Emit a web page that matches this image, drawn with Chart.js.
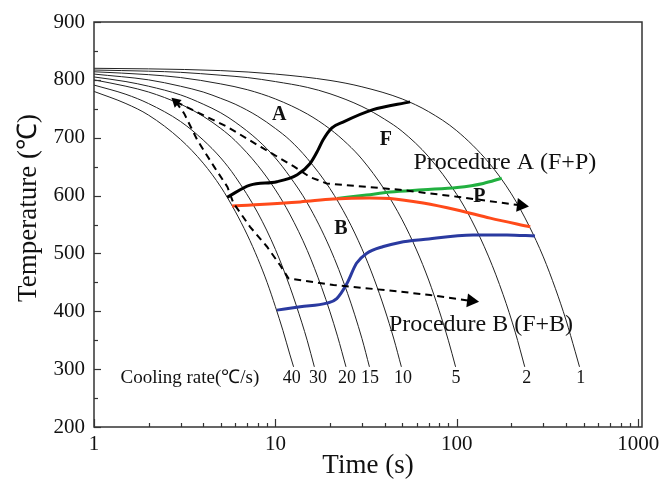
<!DOCTYPE html>
<html><head><meta charset="utf-8">
<script src="https://cdn.jsdelivr.net/npm/chart.js@4/dist/chart.umd.min.js"></script>
<style>html,body{margin:0;padding:0;background:#fff}#wrap{width:666px;height:484px}</style>
</head><body><div id="wrap"><canvas id="c" width="666" height="484"></canvas></div>
<script>
// ---- data: [time (s), temperature (°C)] ----
const rateLabels = ['40','30','20','15','10','5','2','1'];
const rateLabelTimes = [12.3,17.2,24.8,33.2,50.5,98.9,243,483];
const curve40 = [[1,780],[1.5,759],[2,739],[3,697],[4,656],[5,615],[6,573],[7,532],[8,491],[9,450],[10,408],[11,367],[12,326],[12.6,304]];
const curve30 = [[1,791],[1.5,775],[2,759],[3,728],[4,696],[5,665],[6,633],[8,570],[10,507],[12,443],[14,380],[15,349],[16.4,304]];
const curve20 = [[1,800],[1.5,789],[2,779],[3,758],[4,737],[5,716],[6,695],[8,652],[10,610],[12,568],[15,505],[18,441],[20,399],[22,357],[24.5,304]];
const curve15 = [[1,805],[1.5,797],[2,789],[3,774],[4,758],[5,743],[6,727],[8,696],[10,665],[12,633],[15,587],[20,509],[25,431],[30,353],[33,304]];
const curve10 = [[1,810],[2,800],[3,789],[4,779],[5,768],[6,758],[8,737],[10,716],[12,696],[15,664],[20,612],[25,560],[30,508],[35,456],[40,404],[45,352],[49.5,304]];
const curve5 = [[1,814],[2,809],[3,804],[5,793],[7,783],[10,767],[15,741],[20,715],[25,689],[30,663],[40,610],[50,558],[60,506],[70,454],[80,401],[90,349],[98.5,304]];
const curve2 = [[1,817],[2,815],[3,813],[5,808],[7,804],[10,797],[15,787],[20,776],[30,754],[40,732],[50,711],[70,667],[100,602],[120,559],[150,494],[180,429],[210,364],[237,304]];
const curve1 = [[1,820],[2,819],[5,816],[10,810],[20,799],[30,788],[50,767],[70,745],[100,712],[150,657],[200,603],[250,548],[300,494],[350,439],[400,385],[450,330],[475,304]];
const ferriteStart = [[5.42,597],[7.25,618],[10.2,624],[13.2,636],[15.5,655],[17.2,679],[18.3,696],[20.5,717],[23.6,727],[34.2,748],[55.3,762]];
const pearliteStart = [[5.77,582],[13.7,589],[20.8,594],[33,596],[42.9,595],[65.3,587],[100.5,575],[152.8,561],[254,546]];
const pearliteUpper = [[21.9,595],[31.8,601],[42.9,606],[65.3,610],[100.5,614],[140,621],[177,630]];
const bainiteStart = [[10.2,402],[13.7,408],[19.2,414],[21.8,422],[24.8,448],[28,483],[31.8,500],[39.4,512],[48.6,519],[65.3,524],[123,532],[189,532],[270,530]];
const procedureA = [[2.83,762],[5.42,719],[8.31,684],[12.7,650],[15.5,632],[19.2,621],[48.6,610],[100.5,598],[226,583]];
const procedureB = [[2.83,762],[3.14,742],[3.71,696],[4.59,650],[5.44,615],[5.87,587],[7.25,546],[8.97,512],[10.6,480],[11.8,457],[20.9,445.5],[48.6,434],[71.3,428],[120,418]];
const xTickLabels = [1,10,100,1000];
const yTickLabels = [200,300,400,500,600,700,800,900];

const SERIF = '"Liberation Serif", "Times New Roman", serif';
const toXY = a => a.map(p => ({x:p[0], y:p[1]}));

const coolingCurves = [curve40,curve30,curve20,curve15,curve10,curve5,curve2,curve1];
const datasets = [];
coolingCurves.forEach((c,i)=>datasets.push({label:'rate '+rateLabels[i],data:toXY(c),borderColor:'#222',borderWidth:1,pointRadius:0,cubicInterpolationMode:'monotone',order:10}));
datasets.push({label:'F start',data:toXY(ferriteStart),borderColor:'#000',borderWidth:3,pointRadius:0,cubicInterpolationMode:'monotone',order:5});
datasets.push({label:'P start',data:toXY(pearliteStart),borderColor:'#ff4a1a',borderWidth:3,pointRadius:0,cubicInterpolationMode:'monotone',order:5});
datasets.push({label:'P upper',data:toXY(pearliteUpper),borderColor:'#22b040',borderWidth:3,pointRadius:0,cubicInterpolationMode:'monotone',order:5});
datasets.push({label:'B start',data:toXY(bainiteStart),borderColor:'#2a3aa0',borderWidth:3,pointRadius:0,cubicInterpolationMode:'monotone',order:5});
function arrowDs(label,arr,firstArrow,rotFirst,rotLast){
  const last = arr.length-1;
  return {label,data:toXY(arr),borderColor:'#000',borderWidth:2,borderDash:[7,5],tension:0,order:1,
    pointStyle:'triangle',backgroundColor:'#000',pointBackgroundColor:'#000',pointBorderColor:'#000',pointBorderWidth:0,
    pointRadius:ctx=>ctx.dataIndex===last?8:(firstArrow&&ctx.dataIndex===0?6:0),
    pointRotation:ctx=>ctx.dataIndex===last?rotLast:rotFirst};
}
datasets.push(arrowDs('Procedure A',procedureA,true,-48,97));
datasets.push(arrowDs('Procedure B',procedureB,false,-48,97));

const textItems = [
  {t:'A',x:10.5,y:739,font:'bold 20px '+SERIF},
  {t:'F',x:40.7,y:696,font:'bold 20px '+SERIF},
  {t:'B',x:23.0,y:542,font:'bold 20px '+SERIF},
  {t:'P',x:133,y:597,font:'bold 20px '+SERIF},
  {t:'Procedure A (F+P)',x:184,y:656,font:'24px '+SERIF},
  {t:'Procedure B (F+B)',x:136,y:376,font:'24px '+SERIF},
  {t:'Cooling rate(℃/s)',x:3.38,y:285,font:'19px '+SERIF}
];
rateLabels.forEach((r,i)=>textItems.push({t:r,x:rateLabelTimes[i],y:285,font:'18px '+SERIF}));

const decorPlugin = {
  id:'decor',
  afterDraw(chart){
    const {ctx, chartArea:a, scales:{x,y}} = chart;
    ctx.save();
    ctx.strokeStyle='#333'; ctx.lineWidth=1.5;
    ctx.strokeRect(a.left,a.top,a.right-a.left,a.bottom-a.top);
    ctx.lineWidth=1.2;
    for(let v=200; v<=900; v+=50){
      const py=Math.round(y.getPixelForValue(v))+0.5;
      const len = v%100===0?7:4;
      ctx.beginPath(); ctx.moveTo(a.left,py); ctx.lineTo(a.left+len,py); ctx.stroke();
    }
    [1,10,100,1000].forEach(d=>{
      for(let m=1;m<=9;m++){
        const v=d*m; if(v>1000) return;
        const px=Math.round(x.getPixelForValue(v))+0.5;
        const len = m===1?8:4;
        ctx.beginPath(); ctx.moveTo(px,a.bottom); ctx.lineTo(px,a.bottom-len); ctx.stroke();
      }
    });
    ctx.fillStyle='#111'; ctx.textAlign='center'; ctx.textBaseline='middle';
    textItems.forEach(it=>{
      ctx.font=it.font;
      ctx.fillText(it.t, x.getPixelForValue(it.x), y.getPixelForValue(it.y));
    });
    // axis titles
    ctx.font='27px '+SERIF;
    ctx.fillText('Time (s)', (a.left+a.right)/2, 466);
    ctx.translate(29, 208);
    ctx.rotate(-Math.PI/2);
    ctx.fillText('Temperature (℃)', 0, 0);
    ctx.restore();
  }
};

new Chart(document.getElementById('c'),{
  type:'scatter',
  data:{datasets},
  options:{
    responsive:false, animation:false, devicePixelRatio:1,
    showLine:true,
    layout:{padding:{top:22,right:24,left:0,bottom:0}},
    plugins:{legend:{display:false},tooltip:{enabled:false}},
    elements:{line:{fill:false}},
    scales:{
      x:{type:'logarithmic',min:1,max:1050,position:'bottom',
        grid:{display:false,drawTicks:false},border:{display:false},
        afterBuildTicks:s=>{const t=[];[1,10,100].forEach(d=>{for(let m=1;m<=9;m++)t.push({value:d*m});});t.push({value:1000});s.ticks=t;},
        ticks:{autoSkip:false,maxRotation:0,minRotation:0,padding:5,color:'#111',font:{family:SERIF,size:21},
          callback:v=>xTickLabels.includes(v)?String(v):''},
        afterFit:s=>{s.height=57;}
      },
      y:{type:'linear',min:200,max:900,position:'left',
        grid:{display:false,drawTicks:false},border:{display:false},
        afterBuildTicks:s=>{s.ticks=yTickLabels.map(v=>({value:v}));},
        ticks:{padding:9,color:'#111',font:{family:SERIF,size:21}},
        afterFit:s=>{s.width=94;}
      }
    }
  },
  plugins:[decorPlugin]
});
</script></body></html>
